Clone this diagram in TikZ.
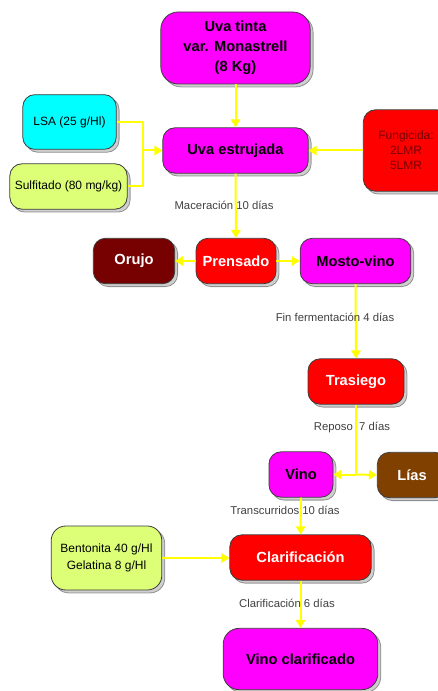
\documentclass[tikz,border=0pt]{standalone}
\usepackage{fontspec}
\setmainfont{Liberation Sans}
\usetikzlibrary{arrows.meta,shadows}

\definecolor{magenta1}{RGB}{255,0,255}
\definecolor{cyan1}{RGB}{0,255,255}
\definecolor{lima1}{RGB}{221,255,119}
\definecolor{rojo1}{RGB}{255,0,0}
\definecolor{granate1}{RGB}{119,0,0}
\definecolor{marron1}{RGB}{128,64,0}
\definecolor{amarillo1}{RGB}{255,255,0}
\definecolor{texto1}{RGB}{64,64,64}
\definecolor{borde1}{RGB}{60,60,60}

\begin{document}
\begin{tikzpicture}[x=0.75pt,y=0.75pt,yscale=-1,xscale=1,
    caja/.style={draw=borde1,line width=0.6pt,rounded corners=9pt,inner sep=0pt,align=center,
        drop shadow={fill=gray!75,draw=borde1,shadow xshift=2.2pt,shadow yshift=-2.2pt}},
    fuerte/.style={font=\fontsize{11}{15}\selectfont\bfseries},
    suave/.style={font=\fontsize{9}{12}\selectfont},
    etiqueta/.style={font=\fontsize{8.5}{10}\selectfont,text=texto1,inner sep=0pt},
    flecha/.style={draw=amarillo1,line width=1.5pt,-{Triangle[width=7pt,length=6pt]}},
    linea/.style={draw=amarillo1,line width=1.5pt}]
        \useasboundingbox (0,0) rectangle (438,691);
        \clip (0,0) rectangle (438,691);

        % Boxes
        \node [caja,fuerte,fill=magenta1,rounded corners=13pt,minimum width=112pt,minimum height=54pt] (uva) at (235.5,48) {Uva tinta\\var. Monastrell\\(8 Kg)};
        \node [caja,fuerte,fill=magenta1,minimum width=109pt,minimum height=34pt] (estrujada) at (235.5,150.5) {Uva estrujada};
        \node [caja,suave,fill=cyan1,minimum width=70pt,minimum height=41pt] (lsa) at (69.5,122) {LSA (25 g/Hl)};
        \node [caja,suave,fill=lima1,minimum width=88pt,minimum height=34pt] (sulfitado) at (68.5,186.5) {Sulfitado (80 mg/kg)};
        \node [caja,suave,fill=rojo1,text=granate1,minimum width=64pt,minimum height=61pt,font=\fontsize{9}{11.3}\selectfont] (fungicida) at (406,150.5) {Fungicida:\\2LMR\\5LMR};
        \node [caja,fuerte,fill=granate1,text=white,minimum width=61pt,minimum height=34pt] (orujo) at (134,261) {Orujo};
        \node [caja,fuerte,fill=rojo1,text=white,minimum width=60pt,minimum height=34pt] (prensado) at (236,261) {Prensado};
        \node [caja,fuerte,fill=magenta1,minimum width=83pt,minimum height=34pt] (mosto) at (355.5,261) {Mosto-vino};
        \node [caja,fuerte,fill=rojo1,text=white,minimum width=72pt,minimum height=34pt] (trasiego) at (356,381.5) {Trasiego};
        \node [caja,fuerte,fill=magenta1,minimum width=48pt,minimum height=34pt] (vino) at (301,474.5) {Vino};
        \node [caja,fuerte,fill=marron1,text=white,minimum width=52pt,minimum height=34pt] (lias) at (412,475) {Lías};
        \node [caja,suave,fill=lima1,rounded corners=11pt,minimum width=83pt,minimum height=48pt,font=\fontsize{9}{12.7}\selectfont] (bentonita) at (106.5,558) {Bentonita 40 g/Hl\\Gelatina 8 g/Hl};
        \node [caja,fuerte,fill=rojo1,text=white,minimum width=106pt,minimum height=34pt] (clarif) at (300.5,557.5) {Clarificación};
        \node [caja,fuerte,fill=magenta1,rounded corners=12pt,minimum width=116pt,minimum height=46pt] (final) at (300.5,659) {Vino clarificado};

        % Junctions
        \coordinate (j1) at (143,150.5);
        \coordinate (j2) at (356,474.5);

        % Connectors
        \draw [flecha] (uva) -- (estrujada);
        \draw [linea] (lsa.east) -| (j1);
        \draw [linea] (sulfitado.east) -| (j1);
        \draw [flecha] (j1) -- (estrujada.west);
        \draw [flecha] (fungicida.west) -- (estrujada.east);
        \draw [flecha] (estrujada) -- (prensado);
        \draw [flecha] (prensado) -- (orujo);
        \draw [flecha] (prensado) -- (mosto);
        \draw [flecha] (mosto.south) -- (trasiego.north);
        \draw [linea] (trasiego.south) -- (j2);
        \draw [flecha] (j2) -- (vino.east);
        \draw [flecha] (j2) -- (lias.west);
        \draw [flecha] (vino) -- (clarif);
        \draw [flecha] (bentonita.east) -- (bentonita.east -| clarif.west);
        \draw [flecha] (clarif) -- (final);

        % Text Node
        \node [etiqueta] (l1) at (224,205) {Maceración 10 días};
        \node [etiqueta] (l2) at (335,317) {Fin fermentación 4 días};
        \node [etiqueta] (l3) at (352,427) {Reposo\ \ 7 días};
        \node [etiqueta] (l4) at (285,510) {Transcurridos 10 días};
        \node [etiqueta] (l5) at (287,603) {Clarificación 6 días};

\end{tikzpicture}
\end{document}
